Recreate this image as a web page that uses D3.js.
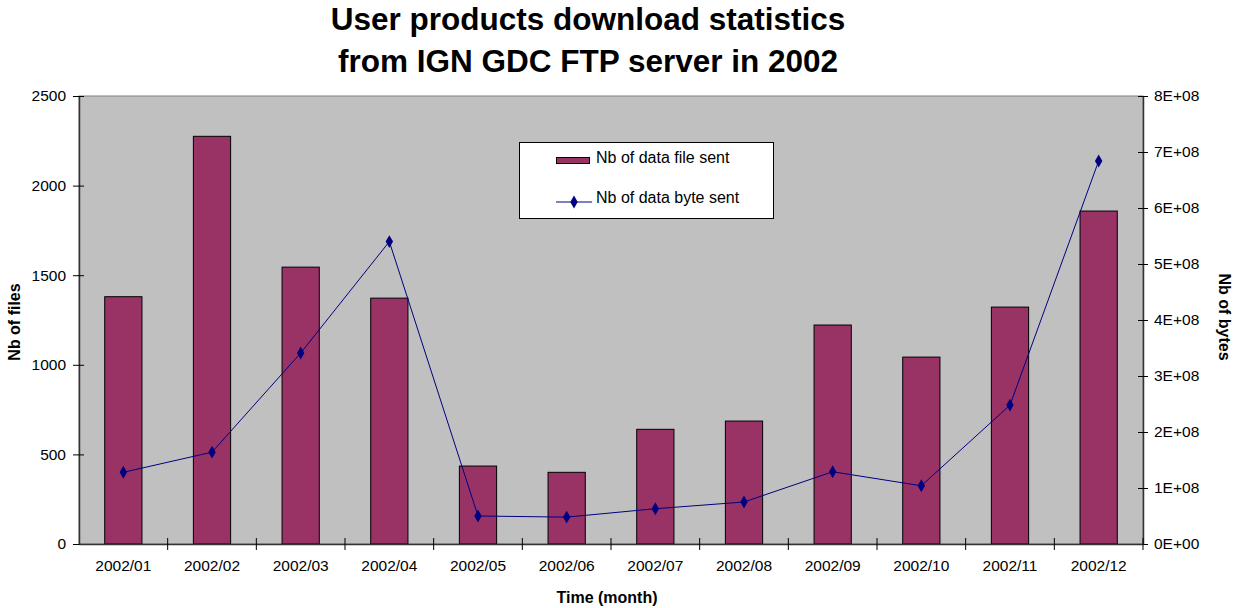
<!DOCTYPE html>
<html>
<head>
<meta charset="utf-8">
<script src="https://cdn.jsdelivr.net/npm/d3@7"></script>
<style>
  body { margin: 0; background: #fff; }
  svg { font-family: "Liberation Sans", Arial, sans-serif; }
</style>
</head>
<body>
<div id="chart"></div>
<script>
    "use strict";

    // Data
    var months = ["2002/01", "2002/02", "2002/03", "2002/04", "2002/05", "2002/06",
                  "2002/07", "2002/08", "2002/09", "2002/10", "2002/11", "2002/12"];
    var filesSent = [1380, 2275, 1545, 1372, 435, 400, 640, 686, 1222, 1043, 1322, 1858];
    var bytesSent = [1.28e8, 1.64e8, 3.41e8, 5.40e8, 0.50e8, 0.48e8, 0.63e8, 0.75e8, 1.29e8, 1.04e8, 2.48e8, 6.84e8];
    var leftTicks = [0, 500, 1000, 1500, 2000, 2500];
    var rightTicks = [0, 1e8, 2e8, 3e8, 4e8, 5e8, 6e8, 7e8, 8e8];
    var legendLabels = ["Nb of data file sent", "Nb of data byte sent"];

    var width = 1236, height = 608;
    var plot = { left: 79, right: 1143, top: 96, bottom: 544 };

    var barFill = "#993366";
    var lineColor = "#000080";
    var font = "Liberation Sans, Arial, sans-serif";

    var svg = d3.select("#chart").append("svg")
        .attr("width", width)
        .attr("height", height);

    var x = d3.scaleBand()
        .domain(months)
        .range([plot.left, plot.right])
        .paddingInner(0.58)
        .paddingOuter(0.29);

    var yL = d3.scaleLinear().domain([0, 2500]).range([plot.bottom, plot.top]);
    var yR = d3.scaleLinear().domain([0, 8e8]).range([plot.bottom, plot.top]);

    // plot background
    svg.append("rect")
        .attr("x", plot.left).attr("y", plot.top)
        .attr("width", plot.right - plot.left)
        .attr("height", plot.bottom - plot.top)
        .attr("fill", "#c0c0c0")
        .attr("stroke", "#808080")
        .attr("stroke-width", 1);

    // bars
    svg.append("g").selectAll("rect")
        .data(filesSent)
        .enter()
        .append("rect")
        .attr("x", function (d, i) { return x(months[i]); })
        .attr("y", function (d) { return yL(d); })
        .attr("width", x.bandwidth())
        .attr("height", function (d) { return yL(0) - yL(d); })
        .attr("fill", barFill)
        .attr("stroke", "#000")
        .attr("stroke-width", 1);

    // left axis
    var leftAxis = d3.axisLeft(yL).tickValues(leftTicks).tickSizeInner(6).tickSizeOuter(0).tickPadding(7)
        .tickFormat(d3.format("d"));
    var gL = svg.append("g")
        .attr("transform", "translate(" + plot.left + ",0)")
        .call(leftAxis);

    // right axis
    var rightAxis = d3.axisRight(yR).tickValues(rightTicks).tickSizeInner(5).tickSizeOuter(0).tickPadding(6)
        .tickFormat(function (d) { return (d / 1e8) + "E+" + (d === 0 ? "00" : "08"); });
    var gR = svg.append("g")
        .attr("transform", "translate(" + plot.right + ",0)")
        .call(rightAxis);

    // crossing ticks on both y axes
    gL.selectAll(".tick line").attr("x1", 5).attr("x2", -6);
    gR.selectAll(".tick line").attr("x1", -5).attr("x2", 5);

    // bottom axis with ticks between categories
    var gB = svg.append("g")
        .attr("transform", "translate(0," + plot.bottom + ")")
        .call(d3.axisBottom(x).tickSize(0).tickPadding(16));
    gB.selectAll(".tick").each(function () {
        var step = x.step();
        d3.select(this).append("line")
            .attr("x1", step / 2).attr("x2", step / 2)
            .attr("y1", -6).attr("y2", 6)
            .attr("stroke", "#000");
    });

    [gL, gR, gB].forEach(function (g) {
        g.attr("font-family", font).attr("font-size", 15.5);
        g.select(".domain").attr("stroke", "#333").attr("stroke-width", 1.5);
        g.selectAll(".tick line").attr("stroke", "#000");
        g.selectAll(".tick text").attr("fill", "#000");
    });

    // byte line
    var line = d3.line()
        .x(function (d, i) { return x(months[i]) + x.bandwidth() / 2; })
        .y(function (d) { return yR(d); });

    svg.append("path")
        .datum(bytesSent)
        .attr("d", line)
        .attr("fill", "none")
        .attr("stroke", lineColor)
        .attr("stroke-width", 1);

    var diamond = d3.symbol().type(d3.symbolDiamond).size(48);
    svg.append("g").selectAll("path")
        .data(bytesSent)
        .enter()
        .append("path")
        .attr("d", diamond)
        .attr("transform", function (d, i) {
            return "translate(" + (x(months[i]) + x.bandwidth() / 2) + "," + yR(d) + ")";
        })
        .attr("fill", lineColor);

    // legend
    var lg = svg.append("g");
    lg.append("rect")
        .attr("x", 519.5).attr("y", 142.5)
        .attr("width", 254).attr("height", 76)
        .attr("fill", "#fff")
        .attr("stroke", "#000");
    lg.append("rect")
        .attr("x", 556.5).attr("y", 157.5)
        .attr("width", 33).attr("height", 6)
        .attr("fill", barFill)
        .attr("stroke", "#000");
    lg.append("line")
        .attr("x1", 556).attr("x2", 592)
        .attr("y1", 202).attr("y2", 202)
        .attr("stroke", lineColor);
    lg.append("path")
        .attr("d", diamond)
        .attr("transform", "translate(574,202)")
        .attr("fill", lineColor);
    lg.selectAll("text")
        .data(legendLabels)
        .enter()
        .append("text")
        .attr("x", 596)
        .attr("y", function (d, i) { return 163 + i * 40; })
        .attr("font-size", 16)
        .text(function (d) { return d; });

    // title
    var title = svg.append("text")
        .attr("text-anchor", "middle")
        .attr("font-size", 31.5)
        .attr("font-weight", "bold");
    title.append("tspan").attr("x", 588).attr("y", 30).text("User products download statistics");
    title.append("tspan").attr("x", 588).attr("y", 72).text("from IGN GDC FTP server in 2002");

    // axis titles
    svg.append("text")
        .attr("transform", "translate(20,322) rotate(-90)")
        .attr("text-anchor", "middle")
        .attr("font-size", 16)
        .attr("font-weight", "bold")
        .text("Nb of files");

    svg.append("text")
        .attr("transform", "translate(1219,317) rotate(90)")
        .attr("text-anchor", "middle")
        .attr("font-size", 16)
        .attr("font-weight", "bold")
        .text("Nb of bytes");

    svg.append("text")
        .attr("x", 607).attr("y", 603)
        .attr("text-anchor", "middle")
        .attr("font-size", 16)
        .attr("font-weight", "bold")
        .text("Time (month)");
</script>
</body>
</html>
